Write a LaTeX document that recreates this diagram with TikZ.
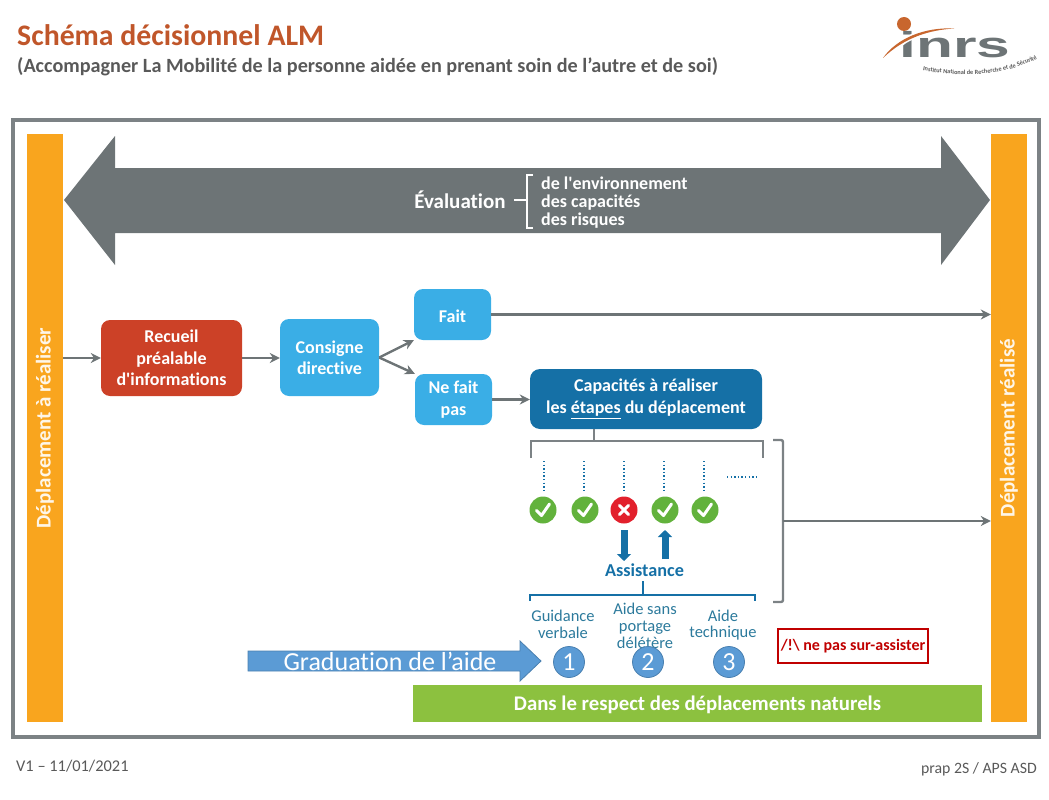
\documentclass[tikz,border=0pt]{standalone}
\usepackage{fontspec}
\setmainfont[Ligatures={TeXOff,NoCommon}]{Carlito}
\newfontfamily\logofont{Liberation Sans}
\usetikzlibrary{arrows.meta,calc,decorations.text}
\definecolor{ink}{HTML}{6D7476}
\definecolor{framegray}{HTML}{7C8285}
\definecolor{titlebrown}{HTML}{C0562A}
\definecolor{subgray}{HTML}{595959}
\definecolor{barorange}{HTML}{F9A51E}
\definecolor{brick}{HTML}{CC4127}
\definecolor{skyblue}{HTML}{3AAEE6}
\definecolor{deepblue}{HTML}{1570A6}
\definecolor{tealtext}{HTML}{2C7A9C}
\definecolor{okgreen}{HTML}{62B23C}
\definecolor{nored}{HTML}{E2202C}
\definecolor{softblue}{HTML}{5B9BD5}
\definecolor{softedge}{HTML}{4A80B0}
\definecolor{leaf}{HTML}{8CC13F}
\definecolor{alarm}{HTML}{C00000}
\definecolor{logoorange}{HTML}{C8662E}
\newcommand{\fs}[2]{\fontsize{#1}{#2}\selectfont}
\tikzset{
  sidebar/.style={fill=barorange,minimum width=36,minimum height=588,inner sep=0},
  sidelabel/.style={rotate=90,text=white,font=\fs{21}{24}\bfseries,text opacity=.9},
  flowbox/.style={rounded corners=9,text=white,align=center,inner sep=0,font=\fs{18}{21.5}\bfseries},
  dipped/.style={execute at begin node={\rule{0pt}{17pt}}},
  flowarrow/.style={draw=ink,line width=2.4,-{Stealth[length=10,width=10]}},
  greyline/.style={draw=framegray,line width=2.4},
  tealbrace/.style={draw=deepblue,line width=2},
  stepdots/.style={draw=deepblue,line width=1.3,dash pattern=on 1.4 off 2.2},
  okdot/.style={circle,fill=okgreen,minimum size=27,inner sep=0},
  nodot/.style={circle,fill=nored,minimum size=27,inner sep=0},
  tickmark/.style={draw=white,line width=3,line cap=round,line join=round},
  aidtext/.style={text=tealtext,align=center,font=\fs{16.5}{16.8}},
  numdisc/.style={circle,fill=softblue,draw=softedge,line width=.8,minimum size=31,inner sep=0,text=white,font=\fs{26}{26}},
}
\begin{document}
\begin{tikzpicture}[x=1pt,y=-1pt]
\useasboundingbox (0,0) rectangle (1049,800);

% page heading
\node[anchor=base west,inner sep=0,text=titlebrown,font=\fs{29.8}{32}\bfseries] (title) at (17,46) {Schéma décisionnel ALM};
\node[anchor=base west,inner sep=0,text=subgray,font=\fs{20.2}{22}\bfseries] (subtitle) at (17,72) {(Accompagner La Mobilité de la personne aidée en prenant soin de l’autre et de soi)};

% logo
\node[anchor=base west,inner sep=0,text=ink,xscale=1.68,font=\logofont\fs{36}{36}\bfseries] (logoword) at (899,57) {inrs};
\fill[white] (880,60) .. controls (895,36) and (925,25) .. (958,27) -- (958,30) .. controls (930,32) and (912,38) .. (902,46) -- cycle;
\fill[logoorange] (883,58) .. controls (897,38) and (925,27) .. (954,28.5) .. controls (930,30) and (905,37) .. (883,58) -- cycle;
\fill[logoorange] (904,24) circle (7);
\path[decorate,decoration={text along path,text align=center,
  text={|\fs{6.3}{8}\bfseries\color{subgray}|Institut National de Recherche et de Sécurité}}]
  (921,70) .. controls (960,78) and (1005,76) .. (1039,58);

% outer frame
\draw[draw=framegray,line width=4] (13,120) rectangle (1039,737);

% side bars
\node[sidebar] (startbar) at (45,428) {};
\node[sidebar] (endbar) at (1009,428) {};
\node[sidelabel] (startlabel) at (45,428) {Déplacement à réaliser};
\node[sidelabel] (endlabel) at (1009,428) {Déplacement réalisé};

% assessment band
\fill[ink] (64,200) -- (115,136) -- (115,168) -- (941,168) -- (941,136) -- (990,200)
  -- (941,265) -- (941,233) -- (115,233) -- (115,265) -- cycle;
\node[text=white,font=\fs{21}{24}\bfseries] (evalword) at (460,200) {Évaluation};
\coordinate (evalend) at (527,200);
\draw[white,line width=1.6] (514,200) -- (evalend);
\draw[white,line width=1.6] (533,175) -- (527,175) -- (527,228) -- (533,228);
\node[anchor=west,inner sep=0,text=white,align=left,font=\fs{18}{18}\bfseries] (evallist) at (541,202.5)
  {de l'environnement\\des capacités\\des risques};

% decision flow
\node[flowbox,dipped,fill=brick,minimum width=141,minimum height=76] (recueil) at (171.5,358) {Recueil\\préalable\\d'informations};
\node[flowbox,fill=skyblue,minimum width=99,minimum height=77] (consigne) at (329.5,357.5) {Consigne\\directive};
\node[flowbox,dipped,fill=skyblue,minimum width=77,minimum height=51] (fait) at (452.5,314.5) {Fait};
\node[flowbox,dipped,fill=skyblue,minimum width=77,minimum height=51,font=\fs{18}{22}\bfseries] (nefait) at (453.5,399.5) {Ne fait\\pas};
\node[flowbox,dipped,fill=deepblue,minimum width=232,minimum height=60,rounded corners=10,font=\fs{18}{22}\bfseries] (capacites) at (646,399)
  {Capacités à réaliser\\les \underline{étapes} du déplacement};

\draw[flowarrow] (startbar.east |- recueil.west) -- (recueil.west);
\draw[flowarrow] (recueil.east) -- (consigne.west |- recueil.east);
\draw[flowarrow] (consigne.east) -- (fait.south west);
\draw[flowarrow] (consigne.east) -- (nefait.north west);
\draw[flowarrow] (nefait.east) -- (capacites.west |- nefait.east);
\draw[flowarrow] (fait.east) -- (endbar.west |- fait.east);

% bracket under the steps box
\coordinate (stemtop) at (594,429);
\coordinate (stemfoot) at (594,441);
\draw[greyline] (stemtop) -- (stemfoot);
\draw[greyline] (531,458) -- (531,441) -- (763,441) -- (763,458);

% steps
\foreach \x in {544,584,624,664,704} \draw[stepdots] (\x,461) -- (\x,490);
\draw[stepdots] (727,477) -- (757,477);
\foreach \n/\x in {a/543,b/585,d/665,e/705} {
  \node[okdot] (step\n) at (\x,510) {};
  \draw[tickmark] (\x-6.5,510.5) -- (\x-1.5,515.5) -- (\x+6.5,504);
}
\node[nodot] (stepc) at (624,510) {};
\draw[tickmark] (619.5,505.5) -- (628.5,514.5) (628.5,505.5) -- (619.5,514.5);

% assistance
\node[text=deepblue,font=\fs{18.2}{20}\bfseries] (assist) at (644.5,570) {Assistance};
\draw[deepblue,line width=7,-{Stealth[length=7,width=14,inset=0]}] (stepc.south |- 0,530) -- (stepc.south |- 0,561);
\draw[deepblue,line width=7,-{Stealth[length=7,width=14,inset=0]}] (stepd.south |- 0,559) -- (stepd.south |- 0,530);
\coordinate (bracetop) at (643,581);
\coordinate (bracefoot) at (643,595);
\draw[tealbrace] (bracetop) -- (bracefoot);
\draw[tealbrace] (530,601) -- (530,595) -- (755,595) -- (755,601);

\node[aidtext] (guidance) at (563,624) {Guidance\\verbale};
\node[aidtext] (portage) at (645,626) {Aide sans\\portage\\délétère};
\node[aidtext] (technique) at (723,625) {Aide\\technique};

% closing bracket towards the achieved move
\coordinate (closemid) at (783,521);
\draw[greyline,rounded corners=2] (773,440) -- (783,440) -- (783,602) -- (773,602);
\draw[flowarrow] (closemid) -- (endbar.west |- closemid);

% graduation
\draw[fill=softblue,draw=softedge,line width=.8] (248,651) -- (520,651) -- (520,641) -- (541,661)
  -- (520,681) -- (520,671) -- (248,671) -- cycle;
\node[text=white,font=\fs{26}{28}] (gradlabel) at (390,661) {Graduation de l’aide};
\node[numdisc] (one) at (569,662) {1};
\node[numdisc] (two) at (648,662) {2};
\node[numdisc] (three) at (729,662) {3};

% warning and footing band
\node[draw=alarm,line width=1.8,minimum width=150,minimum height=34,inner sep=0,text=alarm,font=\fs{16}{16}\bfseries] (warning) at (853,646) {/!\textbackslash\ ne pas sur-assister};
\node[dipped,fill=leaf,minimum width=569,minimum height=37,inner sep=0,text=white,font=\fs{20.8}{22}\bfseries] (respect) at (697.5,703.5) {Dans le respect des déplacements naturels};

% page footer
\node[anchor=base west,inner sep=0,text=subgray,font=\fs{16.4}{17}] (version) at (16,771) {V1 – 11/01/2021};
\node[anchor=base east,inner sep=0,text=subgray,font=\fs{15.8}{17}] (prap) at (1037,773) {prap 2S / APS ASD};
\end{tikzpicture}
\end{document}
